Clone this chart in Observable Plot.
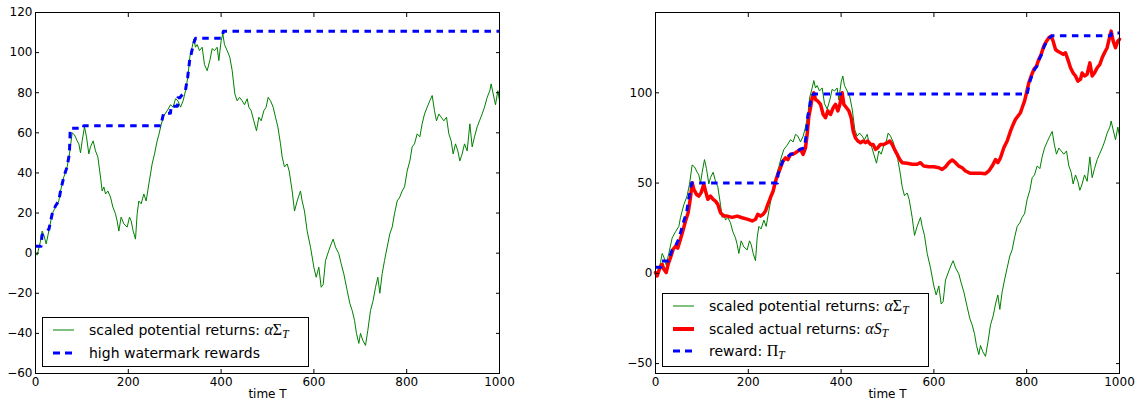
<!DOCTYPE html>
<html><head><meta charset="utf-8">
<script src="https://cdn.jsdelivr.net/npm/d3@7"></script>
<script src="https://cdn.jsdelivr.net/npm/@observablehq/plot@0.6"></script>
<style>
body{margin:0;background:#fff;font-family:"DejaVu Sans",sans-serif;}
#row{display:flex;width:1140px;height:404px;}
.panel{position:relative;width:570px;height:404px;}
.legend{position:absolute;background:#fff;border:1px solid #000;box-sizing:border-box;font-size:14px;color:#000;}
.lrow{position:absolute;left:0;height:20px;white-space:nowrap;}
.lrow svg{position:absolute;left:10px;top:5px;}
.lrow span.t{position:absolute;left:46px;top:0px;line-height:20px;}
.m{font-family:"Liberation Serif","DejaVu Serif",serif;font-size:16px;}
.m sub{font-size:11.5px;vertical-align:-3px;line-height:0;}
</style>
</head><body>
<div id="row"><div class="panel" id="p1"></div><div class="panel" id="p2"></div></div>
<script>
// ---- data ----
const xTicks = [0, 200, 400, 600, 800, 1000];
const yTicksLeft = [-60, -40, -20, 0, 20, 40, 60, 80, 100, 120];
const yTicksRight = [-50, 0, 50, 100];

// scaled potential returns (alpha Sigma_T)
const greenT = [0,3.6,10.8,14.4,18,23,28.7,35.9,43.1,50.3,53.9,61.1,68.2,73.3,79,84,89.8,93.4,97,100.6,105.6,109.9,114.9,118.5,124.3,129.3,134.3,140.1,143.7,147.3,150.9,155.9,161.6,166.7,172.4,176,179.6,184.6,190.4,197.6,202.6,206.2,210.5,215.5,219.1,222.7,227.7,233.5,238.5,244.3,251.4,256.5,262.2,265.8,270.8,276.6,283.8,290.9,296.7,301.7,306.8,312.5,318.2,323.3,328.3,332.6,337.6,341.2,344.8,348.4,353.4,359.2,364.2,370,375.7,380.7,385.8,391.5,395.1,400.1,403.7,407.3,413.1,418.8,423.9,429.6,434.6,439.7,445.4,450.4,456.2,459.8,464.8,470.5,476.3,481.3,486.4,492.1,497.1,501.4,506.5,512.2,517.2,522.3,528,531.6,536.6,542.4,546.7,553.2,558.2,563.9,571.1,574.7,579.7,585.5,592.7,599.9,604.9,610.6,615.7,620,625,632.2,637.2,641.5,646.6,653.7,658.8,664.5,671.7,677.4,682.5,687.5,691.8,696.8,700.4,705.5,711.2,716.2,722,727.7,732.8,737.8,742.1,747.1,752.2,757.9,763.6,768.7,773.7,779.5,785.2,790.2,795.3,801,806.8,811.8,816.8,822.6,828.3,833.3,838.4,844.1,849.9,854.9,859.9,864.2,869.3,874.3,880,885.8,890.8,895.8,900.1,905.2,910.2,914.5,919.5,924.6,930.3,936.1,941.1,946.1,951.9,956.9,962.6,967.7,973.4,979.2,982,986.4,991.4,996.4,1000];
const greenV = [0,-1,6,11,9,4.6,11,19.6,23,26,31,38,43,49.5,60,59,56,54.5,50,56,63,58,49.5,53,56,51,48,38,31,33,29.5,31,28,23,19.6,16,11,18,14.6,13,18,16,11,7,19.6,26,24.6,29.5,26,34.5,44.5,49.5,56,59,64,68.6,71,74,72.8,77,76,72.8,76,81,87.7,97.7,102.7,106.8,102.7,104,101,102.7,94,91,96,102,101,102.7,96,106,109.3,104,101,97.7,91,79.4,76,77.7,76,74,77,72.8,71,66,61,67.8,66,71,72.8,77.7,76,72.8,67.8,63,54.5,48,43,44.5,41,31,21,26,31,26,21,11,3,-7,-12,-7,-17,-15.6,-3.7,1.3,4.6,7,3,-0.3,-5.3,-10.3,-18.6,-25,-28.6,-33.5,-40,-45,-40,-43.5,-46,-38.5,-28.6,-23.6,-17,-12,-20,-10.3,-3.7,3,9.6,13,19.6,26,28,31,33,41,46,53,54.5,59.5,58,64.5,69.4,72.8,76,78.6,71,66,69.4,67.8,66,67.8,59.5,56,49.5,54.5,51,46,49.5,54.5,51,64.5,53,58,63,66,69.4,72.8,77.7,81,84.4,79.4,74,81,76];

// high watermark rewards (left)
const hwT = [0,12,14,24,29,36,43,50,54,61,68,73,75,103,104,270,276,291,292,306,307,311,323,328,333,334,340,345,402,405,1000];
const hwV = [3.4,3.4,9,11,12,19.6,23.5,26,31,38,43,49.5,62.3,62.3,63.5,63.5,69.8,69.8,73.3,73.3,77.5,77.5,81,87.7,97.7,97.7,104,107.2,107.2,110.7,110.7];

// scaled actual returns (alpha S_T)
const redT = [0,3.6,9.3,14.4,18,23,27.3,32.3,38.1,43.1,48.1,53.9,58.9,64.7,70.4,75.4,79,82.6,88.4,93.4,98.4,104.2,107.8,112.8,118.5,124.3,129.3,134.3,140.1,147.3,154.5,165.2,176,186.8,197.6,208.3,215.5,220.5,226.3,232,237.1,242.1,247.8,253.6,258.6,263.6,269.4,274.4,280.2,285.2,290.9,296,301.7,306.8,312.5,318.2,323.3,326.9,330.5,334.1,337.6,341.2,344.8,349.9,355.6,361.4,366.4,371.4,377.2,382.9,387.9,393,397.3,402.3,405.9,411.6,416.7,421.7,426,431,436.1,441.8,447.6,452.6,457.6,463.4,469.1,474.1,479.2,484.9,492.1,499.3,505,510.1,515.1,520.8,526.6,531.6,542.4,553.2,563.9,571.1,578.3,589.1,599.9,610.6,617.8,625,632.2,639.4,646.6,653.7,660.9,668.1,678.9,689.7,700.4,711.2,718.4,725.6,732.8,737.8,743.5,750.7,757.9,765.1,770.8,775.9,780.9,786.6,790.2,795.3,799.6,804.6,809.6,815.4,821.1,826.1,831.2,836.9,842.7,847.7,852.7,857,862.1,867.1,872.8,878.6,883.6,888.6,894.4,900.1,905.2,910.2,915.9,919.5,924.6,930.3,936.1,941.1,946.1,951.9,957.6,962.6,967.7,973.4,978.4,982,986.4,991.4,996.4,1000];
const redV = [0.4,-1.5,3,5,2.2,0.4,5,8.7,13.3,15,14,19,23.4,29,33.6,42,50.2,46.5,43.7,42.8,44.7,49.3,45.6,41,42.8,41,40,38.2,33.6,31.7,31.7,31,31.7,30.8,30,29,30,32.7,31.7,32.7,34.5,38.2,42,45.6,51,54.8,58.5,62,64,63,65.9,65.9,66.8,67.7,68.7,65.9,69.6,77,87,91.7,97.3,100,96.3,95.4,93.6,88,86.2,90,88,91.7,93.6,90,93.6,100,93.6,91.7,90,86.2,78.8,75,73.3,72.4,73.3,72.4,73.3,71.4,71.4,68.7,69.6,71.4,71.4,72.4,73.3,71.4,68.7,65.9,63,61.3,61,60.4,60.4,61.3,59.4,59,59,58.5,57.6,59,61.3,62.8,61.3,59.4,58.5,56.7,55.4,55.4,55.4,55.2,56.7,59.4,63,61.3,64,69.6,73.3,78.8,82.5,85.3,87,89,91.7,95.4,100,105.6,109.3,113,114.8,118.5,121.3,125.9,128.6,130.5,131.4,128.6,124,123,122.2,121.3,122.2,118.5,113.9,111,109.3,106.5,107.5,111,109.3,110.3,116.6,109.3,111,113.9,115.7,119.4,122.2,125,130.5,134.2,128.6,125,128.6,129.6];

// reward Pi_T (right)
const rwT = [0,12,14,28,30,36,43,50,55,61,67,72,78,263,264,269,274,282,291,300,306,312,321,325,328,332,335,340,801,806,811,817,822,827,832,838,843,849,854,982,983,1000];
const rwV = [3.3,3.3,6.8,6.8,9,13,15,19,23.4,29,33.6,42,50,50,54.8,58.5,62,64,65.9,66.8,67.7,68.7,69.6,77,87,91.7,97.3,99.3,99.3,105.6,109.3,113,114.8,118.5,121.3,125.9,128.6,130.5,131.6,131.6,133.2,133.2];

const legendLeft = ["scaled potential returns: ", "high watermark rewards"];
const legendRight = ["scaled potential returns: ", "scaled actual returns: ", "reward: "];
const xLabel = "time T";

const GREEN = "#008000", RED = "#ff0000", BLUE = "#0000ff";
const dash = "6.5,5.5";
const fmt = d => (d < 0 ? "\u2212" + (-d) : String(d));

function panel({yDomain, yTicks, marginLeft, marginRight, marks}) {
  return Plot.plot({
    width: 570, height: 404, marginTop: 12, marginBottom: 31, marginLeft, marginRight,
    x: {domain: [0, 1000]},
    y: {domain: yDomain},
    style: {fontFamily: "DejaVu Sans", fontSize: "12px", color: "#000", background: "#fff", overflow: "visible"},
    marks: [
      ...marks,
      Plot.frame({stroke: "#000", strokeWidth: 1}),
      Plot.axisX({ticks: xTicks, anchor: "bottom", tickSize: -4, tickFormat: () => "", label: null}),
      Plot.axisX({ticks: xTicks, anchor: "top", tickSize: -4, tickFormat: () => "", label: null}),
      Plot.axisY({ticks: yTicks, anchor: "left", tickSize: -4, tickFormat: () => "", label: null}),
      Plot.axisY({ticks: yTicks, anchor: "right", tickSize: -4, tickFormat: () => "", label: null}),
      Plot.axisX({ticks: xTicks, anchor: "bottom", tickSize: 0, tickPadding: 4, tickFormat: fmt, label: null}),
      Plot.axisY({ticks: yTicks, anchor: "left", tickSize: 0, tickPadding: 3, tickFormat: fmt, label: null}),
      Plot.text([xLabel], {frameAnchor: "bottom", dy: 24, fontSize: 12})
    ]
  });
}

const left = panel({
  yDomain: [-60, 120], yTicks: yTicksLeft, marginLeft: 35, marginRight: 71,
  marks: [
    Plot.line(greenV, {x: greenT, y: greenV, stroke: GREEN, strokeWidth: 1}),
    Plot.line(hwV, {x: hwT, y: hwV, stroke: BLUE, strokeWidth: 3, strokeDasharray: dash, strokeLinecap: "butt"})
  ]
});
const right = panel({
  yDomain: [-55.5, 144.5], yTicks: yTicksRight, marginLeft: 85, marginRight: 21,
  marks: [
    Plot.line(greenV, {x: greenT, y: greenV, stroke: GREEN, strokeWidth: 1}),
    Plot.line(redV, {x: redT, y: redV, stroke: RED, strokeWidth: 3.5}),
    Plot.line(rwV, {x: rwT, y: rwV, stroke: BLUE, strokeWidth: 3, strokeDasharray: dash, strokeLinecap: "butt"})
  ]
});
document.getElementById("p1").appendChild(left);
document.getElementById("p2").appendChild(right);

function sample(kind) {
  if (kind === "g") return `<svg width="22" height="10"><line x1="0" y1="5" x2="21" y2="5" stroke="${GREEN}" stroke-width="1"/></svg>`;
  if (kind === "r") return `<svg width="22" height="10"><line x1="0" y1="5" x2="21" y2="5" stroke="${RED}" stroke-width="4"/></svg>`;
  return `<svg width="22" height="10"><line x1="0" y1="5" x2="21" y2="5" stroke="${BLUE}" stroke-width="3" stroke-dasharray="7,5"/></svg>`;
}
const mSigma = `<span class="m"><i>α</i>Σ<sub><i>T</i></sub></span>`;
const mS = `<span class="m"><i>αS</i><sub><i>T</i></sub></span>`;
const mPi = `<span class="m">Π<sub><i>T</i></sub></span>`;

function legend(parent, {left, top, width, height, rows}) {
  const div = document.createElement("div");
  div.className = "legend";
  Object.assign(div.style, {left: left + "px", top: top + "px", width: width + "px", height: height + "px"});
  div.innerHTML = rows.map(r => `<div class="lrow" style="top:${r.y}px">${sample(r.k)}<span class="t">${r.html}</span></div>`).join("");
  parent.appendChild(div);
}
legend(document.getElementById("p1"), {left: 42, top: 317, width: 267, height: 50, rows: [
  {k: "g", y: 2, html: legendLeft[0] + mSigma},
  {k: "b", y: 25, html: legendLeft[1]}
]});
legend(document.getElementById("p2"), {left: 92, top: 293, width: 267, height: 74, rows: [
  {k: "g", y: 2, html: legendRight[0] + mSigma},
  {k: "r", y: 25, html: legendRight[1] + mS},
  {k: "b", y: 47, html: legendRight[2] + mPi}
]});
</script>
</body></html>
